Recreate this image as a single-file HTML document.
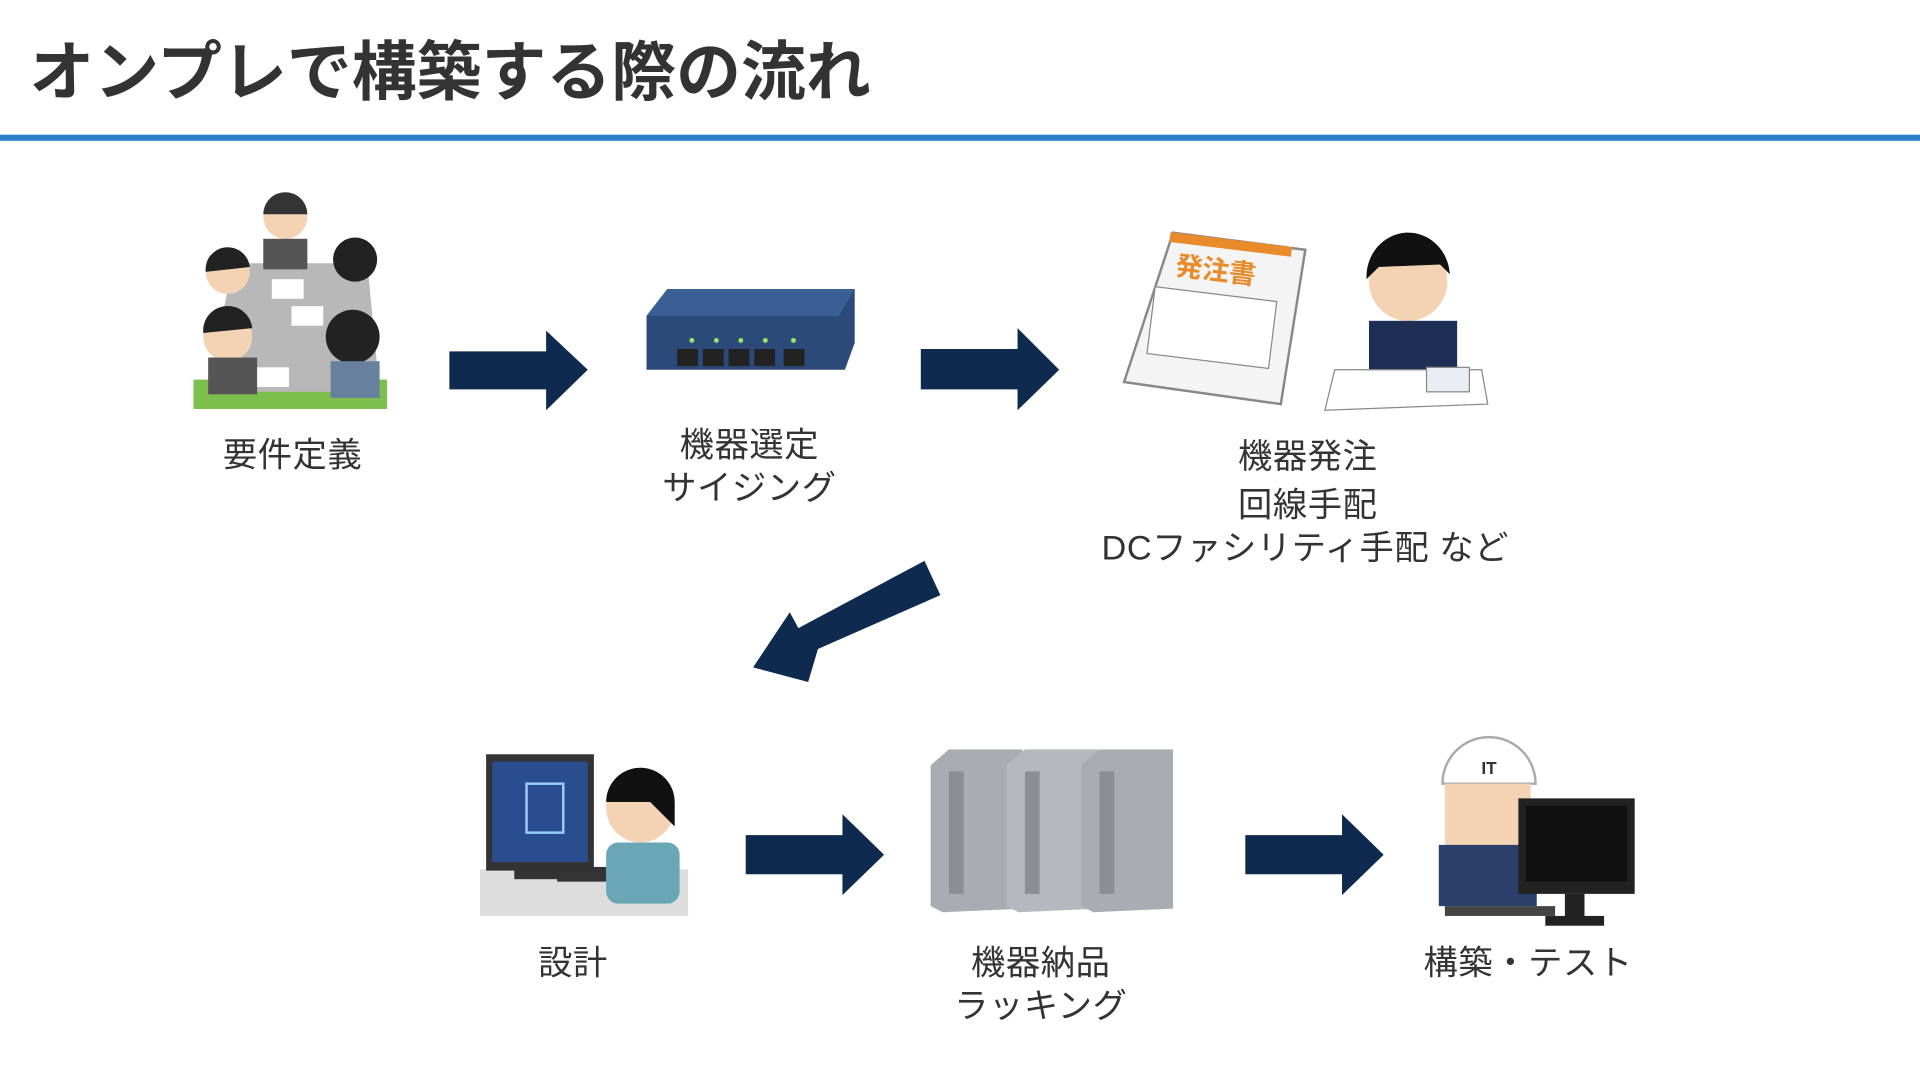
<!DOCTYPE html>
<html><head><meta charset="utf-8"><style>
html,body{margin:0;padding:0;background:#fff;width:1920px;height:1080px;overflow:hidden}
svg{display:block}
text{font-family:"Liberation Sans","Noto Sans CJK JP",sans-serif}
.l{font-size:28px;fill:#333;letter-spacing:0.5px}
</style></head><body>
<svg width="1920" height="1080" viewBox="0 0 1568 882" preserveAspectRatio="none" xmlns="http://www.w3.org/2000/svg">
<rect width="1568" height="882" fill="#fff"/>
<text x="24" y="77" font-size="53" font-weight="bold" fill="#333">オンプレで構築する際の流れ</text>
<rect x="0" y="110" width="1568" height="5" fill="#2b80c5"/>

<g fill="#0f2a4f">
<polygon points="367,287 446,287 446,270 480,302 446,335 446,318 367,318"/>
<polygon points="752,285 831,285 831,268 865,302 831,335 831,318 752,318"/>
<polygon points="609,682 688,682 688,665 722,698 688,731 688,714 609,714"/>
<polygon points="1017,682 1096,682 1096,665 1130,698 1096,731 1096,714 1017,714"/>
<polygon points="755,458 768,486 668,530 660,557 615,545 645,500 652,513"/>
</g>

<g>
<rect x="158" y="310" width="158" height="24" fill="#7cbf4c"/>
<polygon points="190,215 300,215 310,320 170,320" fill="#b8b8b8"/>
<circle cx="233" cy="177" r="18" fill="#f4d2b4"/><path d="M215,175 a18,18 0 0 1 36,0z" fill="#333"/>
<rect x="215" y="195" width="36" height="25" fill="#555"/>
<circle cx="186" cy="222" r="18" fill="#f4d2b4"/><path d="M168,222 a18,18 0 0 1 36,-4z" fill="#222"/>
<circle cx="290" cy="212" r="18" fill="#222"/>
<circle cx="186" cy="275" r="20" fill="#f4d2b4"/><path d="M166,272 a20,20 0 0 1 40,-4z" fill="#222"/>
<rect x="170" y="292" width="40" height="30" fill="#555"/>
<circle cx="288" cy="275" r="22" fill="#222"/>
<rect x="270" y="295" width="40" height="30" fill="#66809e"/>
<rect x="222" y="228" width="26" height="16" fill="#fff"/><rect x="238" y="250" width="26" height="16" fill="#fff"/><rect x="210" y="300" width="26" height="16" fill="#fff"/>
</g>
<text x="239" y="381" class="l" text-anchor="middle">要件定義</text>

<polygon points="528,258 545,236 698,236 698,280 690,302 528,302" fill="#2b4a7a"/>
<polygon points="528,258 545,236 698,236 685,258" fill="#3a5f95"/>
<g fill="#222"><rect x="553" y="285" width="17" height="14"/><rect x="574" y="285" width="17" height="14"/><rect x="595" y="285" width="17" height="14"/><rect x="616" y="285" width="17" height="14"/><rect x="640" y="285" width="17" height="14"/></g>
<g fill="#9be36a"><circle cx="565" cy="278" r="2"/><circle cx="585" cy="278" r="2"/><circle cx="605" cy="278" r="2"/><circle cx="625" cy="278" r="2"/><circle cx="648" cy="278" r="2"/></g>
<text x="612" y="373" class="l" text-anchor="middle">機器選定</text>
<text x="612" y="408" class="l" text-anchor="middle">サイジング</text>

<polygon points="958,190 1066,204 1046,330 918,312" fill="#f4f4f4" stroke="#888" stroke-width="2"/>
<rect x="955" y="195" width="100" height="8" fill="#e98a2b" transform="rotate(7 1000 200)"/>
<text x="960" y="228" font-size="22" font-weight="bold" fill="#e98a2b" transform="rotate(7 990 220)">発注書</text>
<rect x="940" y="240" width="100" height="55" fill="#fff" stroke="#888" transform="rotate(7 990 265)"/>
<circle cx="1150" cy="230" r="32" fill="#f4d2b4"/>
<path d="M1116,228 a34,36 0 0 1 68,-4 l-8,-8 -50,2z" fill="#111"/>
<rect x="1118" y="262" width="72" height="40" fill="#1d2f55"/>
<polygon points="1090,302 1210,302 1215,330 1082,335" fill="#fff" stroke="#888"/>
<rect x="1165" y="300" width="35" height="20" fill="#e8eef4" stroke="#888"/>
<text x="1068" y="382" class="l" text-anchor="middle">機器発注</text>
<text x="1068" y="422" class="l" text-anchor="middle">回線手配</text>
<text x="1066" y="457" class="l" text-anchor="middle">DCファシリティ手配 など</text>

<rect x="392" y="710" width="170" height="38" fill="#ddd"/>
<rect x="397" y="616" width="88" height="95" fill="#333"/>
<rect x="402" y="622" width="78" height="82" fill="#2a4d8f"/>
<rect x="430" y="640" width="30" height="40" fill="none" stroke="#9cf" stroke-width="2"/>
<rect x="420" y="710" width="40" height="8" fill="#333"/>
<circle cx="523" cy="660" r="28" fill="#f4d2b4"/>
<path d="M495,655 a28,28 0 0 1 56,0 l0,20 -20,-20z" fill="#111"/>
<rect x="495" y="688" width="60" height="50" rx="10" fill="#6aa7b5"/>
<rect x="455" y="708" width="40" height="12" fill="#333"/>
<text x="468" y="796" class="l" text-anchor="middle">設計</text>

<g>
<polygon points="760,625 775,612 835,612 835,742 770,745 760,740" fill="#a9adb3"/>
<polygon points="822,625 837,612 897,612 897,742 832,745 822,740" fill="#b5b9bf"/>
<polygon points="883,625 898,612 958,612 958,742 893,745 883,740" fill="#a9adb3"/>
<rect x="775" y="630" width="12" height="100" fill="#8a8f96"/><rect x="837" y="630" width="12" height="100" fill="#8a8f96"/><rect x="898" y="630" width="12" height="100" fill="#8a8f96"/>
</g>
<text x="850" y="796" class="l" text-anchor="middle">機器納品</text>
<text x="850" y="831" class="l" text-anchor="middle">ラッキング</text>

<path d="M1178,640 a36,36 0 0 1 76,0z" fill="#fff" stroke="#aaa" stroke-width="2"/>
<text x="1216" y="632" font-size="14" font-weight="bold" fill="#333" text-anchor="middle">IT</text>
<rect x="1180" y="640" width="70" height="55" fill="#f4d2b4"/>
<rect x="1175" y="690" width="80" height="50" fill="#2b3f6b"/>
<rect x="1240" y="652" width="95" height="78" fill="#222"/>
<rect x="1246" y="658" width="83" height="62" fill="#111"/>
<rect x="1278" y="730" width="16" height="20" fill="#222"/><rect x="1262" y="748" width="48" height="8" fill="#222"/>
<rect x="1180" y="740" width="90" height="8" fill="#444"/>
<text x="1248" y="796" class="l" text-anchor="middle">構築・テスト</text>
</svg>
</body></html>
